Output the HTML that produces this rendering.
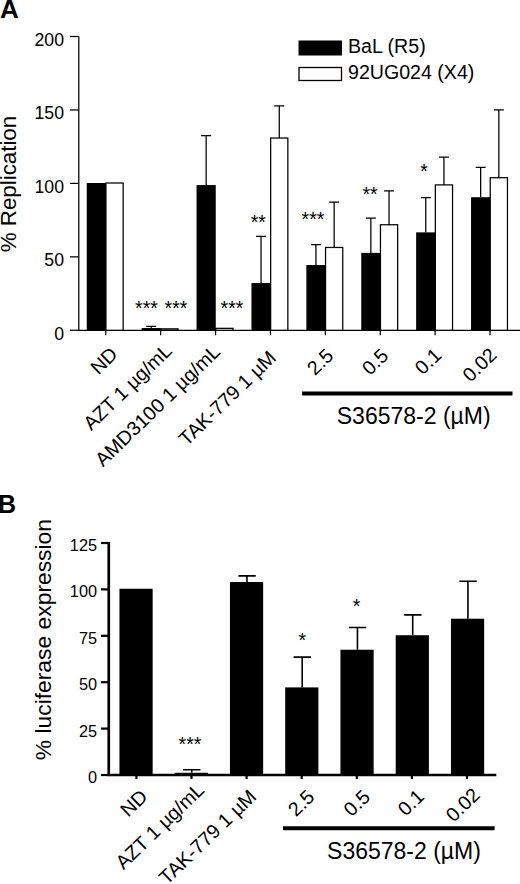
<!DOCTYPE html><html><head><meta charset="utf-8"><style>html,body{margin:0;padding:0;background:#fff}svg{display:block}text{font-family:"Liberation Sans",sans-serif;fill:#000}</style></head><body>
<svg width="520" height="884" viewBox="0 0 520 884">
<rect width="520" height="884" fill="#fff"/>
<text x="0" y="17.9" font-size="26" font-weight="bold">A</text>
<path d="M78.8 36.5V330.3H520" fill="none" stroke="#000" stroke-width="1.25"/>
<path d="M70 330.30H78.8" stroke="#000" stroke-width="1.25"/>
<text x="64" y="339.50" font-size="17.7" text-anchor="end">0</text>
<path d="M70 256.85H78.8" stroke="#000" stroke-width="1.25"/>
<text x="64" y="266.05" font-size="17.7" text-anchor="end">50</text>
<path d="M70 183.40H78.8" stroke="#000" stroke-width="1.25"/>
<text x="64" y="192.60" font-size="17.7" text-anchor="end">100</text>
<path d="M70 109.95H78.8" stroke="#000" stroke-width="1.25"/>
<text x="64" y="119.15" font-size="17.7" text-anchor="end">150</text>
<path d="M70 36.50H78.8" stroke="#000" stroke-width="1.25"/>
<text x="64" y="45.70" font-size="17.7" text-anchor="end">200</text>
<text transform="translate(16.4,184) rotate(-90)" font-size="22.3" text-anchor="middle">% Replication</text>
<path d="M105.75 330.3v5" stroke="#000" stroke-width="1.25"/>
<rect x="86.75" y="183.00" width="19.2" height="147.30" fill="#000"/>
<rect x="105.95" y="183.00" width="17.2" height="147.30" fill="#fff" stroke="#000" stroke-width="1.25"/>
<path d="M160.65 330.3v5" stroke="#000" stroke-width="1.25"/>
<rect x="141.65" y="328.04" width="19.2" height="2.26" fill="#000"/>
<path d="M151.25 328.04V326.28M146.25 326.28h10" stroke="#000" stroke-width="1.25" fill="none"/>
<rect x="160.85" y="328.84" width="17.2" height="1.46" fill="#fff" stroke="#000" stroke-width="1.25"/>
<path d="M215.55 330.3v5" stroke="#000" stroke-width="1.25"/>
<rect x="196.55" y="185.05" width="19.2" height="145.25" fill="#000"/>
<path d="M206.15 185.05V135.53M201.15 135.53h10" stroke="#000" stroke-width="1.25" fill="none"/>
<rect x="215.75" y="328.33" width="17.2" height="1.97" fill="#fff" stroke="#000" stroke-width="1.25"/>
<path d="M270.45 330.3v5" stroke="#000" stroke-width="1.25"/>
<rect x="251.45" y="283.06" width="19.2" height="47.24" fill="#000"/>
<path d="M261.05 283.06V236.47M256.05 236.47h10" stroke="#000" stroke-width="1.25" fill="none"/>
<rect x="270.65" y="138.02" width="17.2" height="192.28" fill="#fff" stroke="#000" stroke-width="1.25"/>
<path d="M279.25 138.02V105.79M274.25 105.79h10" stroke="#000" stroke-width="1.25" fill="none"/>
<path d="M325.35 330.3v5" stroke="#000" stroke-width="1.25"/>
<rect x="306.35" y="265.04" width="19.2" height="65.26" fill="#000"/>
<path d="M315.95 265.04V244.53M310.95 244.53h10" stroke="#000" stroke-width="1.25" fill="none"/>
<rect x="325.55" y="247.46" width="17.2" height="82.84" fill="#fff" stroke="#000" stroke-width="1.25"/>
<path d="M334.15 247.46V202.04M329.15 202.04h10" stroke="#000" stroke-width="1.25" fill="none"/>
<path d="M380.25 330.3v5" stroke="#000" stroke-width="1.25"/>
<rect x="361.25" y="252.88" width="19.2" height="77.42" fill="#000"/>
<path d="M370.85 252.88V218.16M365.85 218.16h10" stroke="#000" stroke-width="1.25" fill="none"/>
<rect x="380.45" y="224.75" width="17.2" height="105.55" fill="#fff" stroke="#000" stroke-width="1.25"/>
<path d="M389.05 224.75V190.76M384.05 190.76h10" stroke="#000" stroke-width="1.25" fill="none"/>
<path d="M435.15 330.3v5" stroke="#000" stroke-width="1.25"/>
<rect x="416.15" y="232.37" width="19.2" height="97.93" fill="#000"/>
<path d="M425.75 232.37V197.65M420.75 197.65h10" stroke="#000" stroke-width="1.25" fill="none"/>
<rect x="435.35" y="184.90" width="17.2" height="145.40" fill="#fff" stroke="#000" stroke-width="1.25"/>
<path d="M443.95 184.90V157.07M438.95 157.07h10" stroke="#000" stroke-width="1.25" fill="none"/>
<path d="M490.05 330.3v5" stroke="#000" stroke-width="1.25"/>
<rect x="471.05" y="197.21" width="19.2" height="133.09" fill="#000"/>
<path d="M480.65 197.21V167.32M475.65 167.32h10" stroke="#000" stroke-width="1.25" fill="none"/>
<rect x="490.25" y="177.73" width="17.2" height="152.57" fill="#fff" stroke="#000" stroke-width="1.25"/>
<path d="M498.85 177.73V109.75M493.85 109.75h10" stroke="#000" stroke-width="1.25" fill="none"/>
<rect x="298.5" y="40.5" width="43.5" height="15" fill="#000"/>
<rect x="299" y="67.5" width="42.5" height="13" fill="#fff" stroke="#000" stroke-width="1.3"/>
<text x="348" y="53.1" font-size="19.6">BaL (R5)</text>
<text x="348" y="78.9" font-size="19.6">92UG024 (X4)</text>
<text x="146.5" y="314.75" font-size="19.5" text-anchor="middle">***</text>
<text x="176" y="314.75" font-size="19.5" text-anchor="middle">***</text>
<text x="232" y="314.75" font-size="19.5" text-anchor="middle">***</text>
<text x="258.3" y="229.0" font-size="19.5" text-anchor="middle">**</text>
<text x="313" y="226.3" font-size="19.5" text-anchor="middle">***</text>
<text x="370" y="201.2" font-size="19.5" text-anchor="middle">**</text>
<text x="424" y="178.0" font-size="19.5" text-anchor="middle">*</text>
<text transform="translate(118.85,355.70) rotate(-44)" font-size="19.7" text-anchor="end">ND</text>
<text transform="translate(173.05,352.20) rotate(-44)" font-size="19.7" text-anchor="end">AZT 1 µg/mL</text>
<text transform="translate(221.45,353.20) rotate(-44)" font-size="19.7" text-anchor="end">AMD3100 1 µg/mL</text>
<text transform="translate(277.35,359.20) rotate(-44)" font-size="19.7" text-anchor="end">TAK-779 1 µM</text>
<text transform="translate(334.75,357.20) rotate(-44)" font-size="19.7" text-anchor="end">2.5</text>
<text transform="translate(389.65,357.20) rotate(-44)" font-size="19.7" text-anchor="end">0.5</text>
<text transform="translate(442.55,356.70) rotate(-44)" font-size="19.7" text-anchor="end">0.1</text>
<text transform="translate(497.95,356.40) rotate(-44)" font-size="19.7" text-anchor="end">0.02</text>
<path d="M302.1 393.5H512.5" stroke="#000" stroke-width="4.1"/>
<text x="413.7" y="424.2" font-size="23" text-anchor="middle">S36578-2 (µM)</text>
<text x="-2" y="513" font-size="25" font-weight="bold">B</text>
<path d="M108.75 542V775H496.3" fill="none" stroke="#000" stroke-width="2.7"/>
<path d="M101 775.00H108.75" stroke="#000" stroke-width="2.2"/>
<text x="97" y="783.00" font-size="16.3" text-anchor="end">0</text>
<path d="M101 728.60H108.75" stroke="#000" stroke-width="2.2"/>
<text x="97" y="736.60" font-size="16.3" text-anchor="end">25</text>
<path d="M101 682.20H108.75" stroke="#000" stroke-width="2.2"/>
<text x="97" y="690.20" font-size="16.3" text-anchor="end">50</text>
<path d="M101 635.80H108.75" stroke="#000" stroke-width="2.2"/>
<text x="97" y="643.80" font-size="16.3" text-anchor="end">75</text>
<path d="M101 589.40H108.75" stroke="#000" stroke-width="2.2"/>
<text x="97" y="597.40" font-size="16.3" text-anchor="end">100</text>
<path d="M101 543.00H108.75" stroke="#000" stroke-width="2.2"/>
<text x="97" y="551.00" font-size="16.3" text-anchor="end">125</text>
<text transform="translate(51,639.6) rotate(-90)" font-size="22.85" text-anchor="middle">% luciferase expression</text>
<path d="M136.4 775v4" stroke="#000" stroke-width="2.2"/>
<rect x="119.45" y="588.75" width="33.2" height="186.25" fill="#000"/>
<path d="M191.5 775v4" stroke="#000" stroke-width="2.2"/>
<rect x="174.70" y="772.77" width="33.2" height="2.23" fill="#000"/>
<path d="M191.70 772.77V769.80M183.10 769.80h17.4" stroke="#000" stroke-width="1.6" fill="none"/>
<path d="M246.60000000000002 775v4" stroke="#000" stroke-width="2.2"/>
<rect x="229.95" y="581.98" width="33.2" height="193.02" fill="#000"/>
<path d="M246.95 581.98V575.85M238.35 575.85h17.4" stroke="#000" stroke-width="1.6" fill="none"/>
<path d="M301.70000000000005 775v4" stroke="#000" stroke-width="2.2"/>
<rect x="285.20" y="687.40" width="33.2" height="87.60" fill="#000"/>
<path d="M302.20 687.40V657.14M293.60 657.14h17.4" stroke="#000" stroke-width="1.6" fill="none"/>
<path d="M356.8 775v4" stroke="#000" stroke-width="2.2"/>
<rect x="340.45" y="649.72" width="33.2" height="125.28" fill="#000"/>
<path d="M357.45 649.72V627.45M348.85 627.45h17.4" stroke="#000" stroke-width="1.6" fill="none"/>
<path d="M411.9 775v4" stroke="#000" stroke-width="2.2"/>
<rect x="395.70" y="635.24" width="33.2" height="139.76" fill="#000"/>
<path d="M412.70 635.24V614.83M404.10 614.83h17.4" stroke="#000" stroke-width="1.6" fill="none"/>
<path d="M467.0 775v4" stroke="#000" stroke-width="2.2"/>
<rect x="450.95" y="618.72" width="33.2" height="156.28" fill="#000"/>
<path d="M467.95 618.72V581.23M459.35 581.23h17.4" stroke="#000" stroke-width="1.6" fill="none"/>
<text x="190" y="750.5" font-size="19.5" text-anchor="middle">***</text>
<text x="302.2" y="647.0" font-size="19.5" text-anchor="middle">*</text>
<text x="356.6" y="612.7" font-size="19.5" text-anchor="middle">*</text>
<text transform="translate(148.70,798.00) rotate(-44)" font-size="19.7" text-anchor="end">ND</text>
<text transform="translate(205.30,791.30) rotate(-44)" font-size="19.7" text-anchor="end">AZT 1 µg/mL</text>
<text transform="translate(257.60,798.00) rotate(-44)" font-size="19.7" text-anchor="end">TAK-779 1 µM</text>
<text transform="translate(315.70,798.50) rotate(-44)" font-size="19.7" text-anchor="end">2.5</text>
<text transform="translate(371.30,798.50) rotate(-44)" font-size="19.7" text-anchor="end">0.5</text>
<text transform="translate(425.40,798.00) rotate(-44)" font-size="19.7" text-anchor="end">0.1</text>
<text transform="translate(481.20,796.30) rotate(-44)" font-size="19.7" text-anchor="end">0.02</text>
<path d="M283 828.2H494.6" stroke="#000" stroke-width="4.1"/>
<text x="404" y="858.5" font-size="23" text-anchor="middle">S36578-2 (µM)</text>
</svg></body></html>
